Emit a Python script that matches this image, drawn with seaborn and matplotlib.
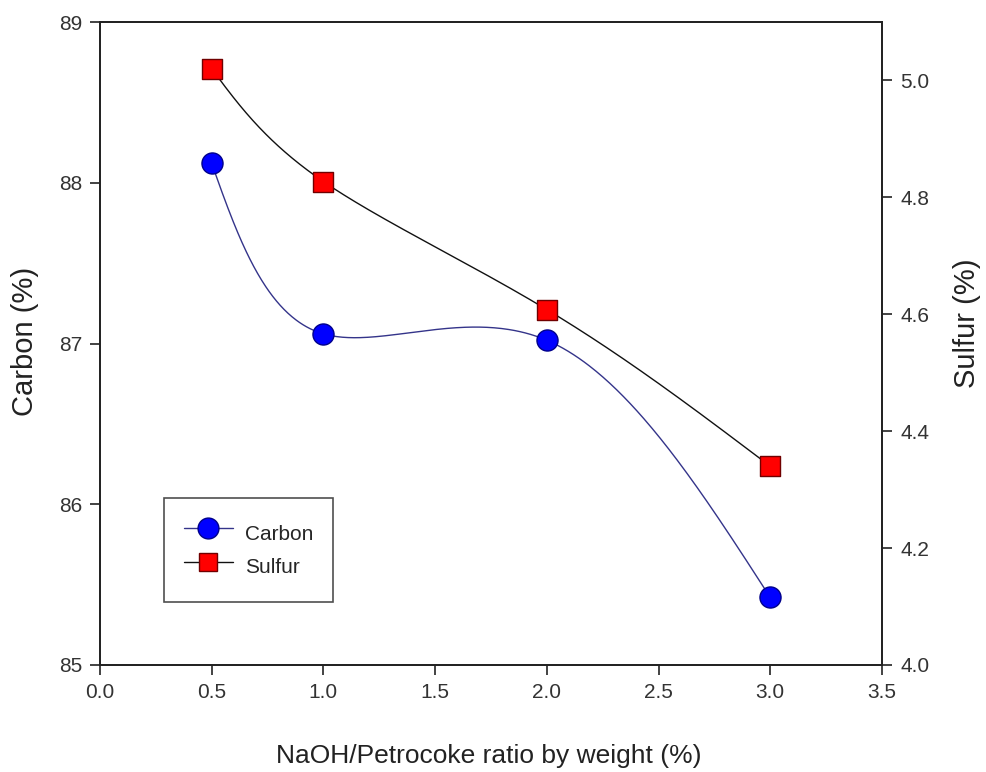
import numpy as np
import pandas as pd
import matplotlib
matplotlib.use("Agg")
import matplotlib.pyplot as plt
from matplotlib.lines import Line2D
import seaborn as sns

# ---- data ----
ratio = [0.5, 1.0, 2.0, 3.0]
carbon = [88.12, 87.06, 87.02, 85.42]
sulfur = [5.02, 4.827, 4.608, 4.34]

x_ticks = [0.0, 0.5, 1.0, 1.5, 2.0, 2.5, 3.0, 3.5]
carbon_ticks = [85, 86, 87, 88, 89]
sulfur_ticks = [4.0, 4.2, 4.4, 4.6, 4.8, 5.0]

XLIM = (0.0, 3.5)
CLIM = (85.0, 89.0)
SLIM = (4.0, 5.1)
AX_W, AX_H = 782.0, 643.0  # axes size in pixels


def _nat_spline_coef(t, v):
    k = len(t)
    h = np.diff(t)
    A = np.zeros((k, k))
    b = np.zeros(k)
    A[0, 0] = 1
    A[-1, -1] = 1
    for i in range(1, k - 1):
        A[i, i - 1] = h[i - 1]
        A[i, i] = 2 * (h[i - 1] + h[i])
        A[i, i + 1] = h[i]
        b[i] = 3 * ((v[i + 1] - v[i]) / h[i] - (v[i] - v[i - 1]) / h[i - 1])
    return np.linalg.solve(A, b)


def _eval(t, v, c, ts):
    h = np.diff(t)
    out = np.empty_like(ts)
    for j, tv in enumerate(ts):
        i = min(max(np.searchsorted(t, tv, side="right") - 1, 0), len(t) - 2)
        bi = (v[i + 1] - v[i]) / h[i] - h[i] * (2 * c[i] + c[i + 1]) / 3
        di = (c[i + 1] - c[i]) / (3 * h[i])
        d = tv - t[i]
        out[j] = v[i] + bi * d + c[i] * d ** 2 + di * d ** 3
    return out


def param_spline(x, y, n=400):
    """Parametric natural spline through the data points (uniform parameter)."""
    x = np.asarray(x, float)
    y = np.asarray(y, float)
    t = np.arange(len(x), dtype=float)
    ts = np.linspace(0, t[-1], n)
    return (_eval(t, x, _nat_spline_coef(t, x), ts),
            _eval(t, y, _nat_spline_coef(t, y), ts))


sns.set_style("ticks")
plt.rcParams["font.family"] = ["Liberation Sans", "DejaVu Sans"]

fig = plt.figure(figsize=(9.87, 7.72), dpi=100)
ax = fig.add_axes([100 / 987, 1 - 665 / 772, AX_W / 987, AX_H / 772])
ax2 = ax.twinx()

df = pd.DataFrame({"ratio": ratio, "carbon": carbon, "sulfur": sulfur})

cx, cy = param_spline(ratio, carbon)
sx, sy = param_spline(ratio, sulfur)

line_c = "#34348a"
line_s = "#111111"

sns.lineplot(x=cx, y=cy, ax=ax, color=line_c, lw=1.0, sort=False, zorder=2)
sns.scatterplot(data=df, x="ratio", y="carbon", ax=ax, marker="o", s=230,
                color="#0000ff", edgecolor="#00008b", linewidth=1.0, zorder=3)

sns.lineplot(x=sx, y=sy, ax=ax2, color=line_s, lw=1.0, sort=False, zorder=2)
sns.scatterplot(data=df, x="ratio", y="sulfur", ax=ax2, marker="s", s=200,
                color="#ff0000", edgecolor="#700000", linewidth=1.0, zorder=3)

ax.set_xlim(*XLIM)
ax.set_ylim(*CLIM)
ax2.set_ylim(*SLIM)
ax.set_xticks(x_ticks)
ax.set_xticklabels([f"{t:.1f}" for t in x_ticks])
ax.set_yticks(carbon_ticks)
ax.set_yticklabels([str(t) for t in carbon_ticks])
ax2.set_yticks(sulfur_ticks)
ax2.set_yticklabels([f"{t:.1f}" for t in sulfur_ticks])

for a in (ax, ax2):
    for s in a.spines.values():
        s.set_visible(True)
        s.set_color("#222222")
        s.set_linewidth(1.3)
    a.tick_params(direction="out", length=7, width=1.2, color="#222222",
                  labelsize=15, labelcolor="#333333", pad=6)

ax.set_xlabel("")
ax.set_ylabel("")
ax2.set_ylabel("")
fig.text(489 / 987, 1 - 756 / 772, "NaOH/Petrocoke ratio by weight (%)",
         fontsize=19, color="#222222", ha="center", va="center")
fig.text(25 / 987, 1 - 341 / 772, "Carbon (%)", rotation=90,
         fontsize=21, color="#222222", ha="center", va="center")
fig.text(967 / 987, 1 - 323 / 772, "Sulfur (%)", rotation=90,
         fontsize=21, color="#222222", ha="center", va="center")

handles = [
    Line2D([], [], color=line_c, lw=1.0, marker="o", markersize=15,
           markerfacecolor="#0000ff", markeredgecolor="#00008b"),
    Line2D([], [], color=line_s, lw=1.0, marker="s", markersize=13,
           markerfacecolor="#ff0000", markeredgecolor="#700000"),
]
leg = ax2.legend(handles, ["Carbon", "Sulfur"], loc="lower left",
                 bbox_to_anchor=((164 - 100) / AX_W, (665 - 602) / AX_H),
                 frameon=True, fancybox=False, fontsize=15, handlelength=2.35,
                 handleheight=1.9, borderpad=0.95, labelspacing=0.15,
                 handletextpad=0.6, borderaxespad=0)
leg.get_frame().set_edgecolor("#222222")
leg.get_frame().set_linewidth(1.2)

fig.savefig("out.png", dpi=100)
